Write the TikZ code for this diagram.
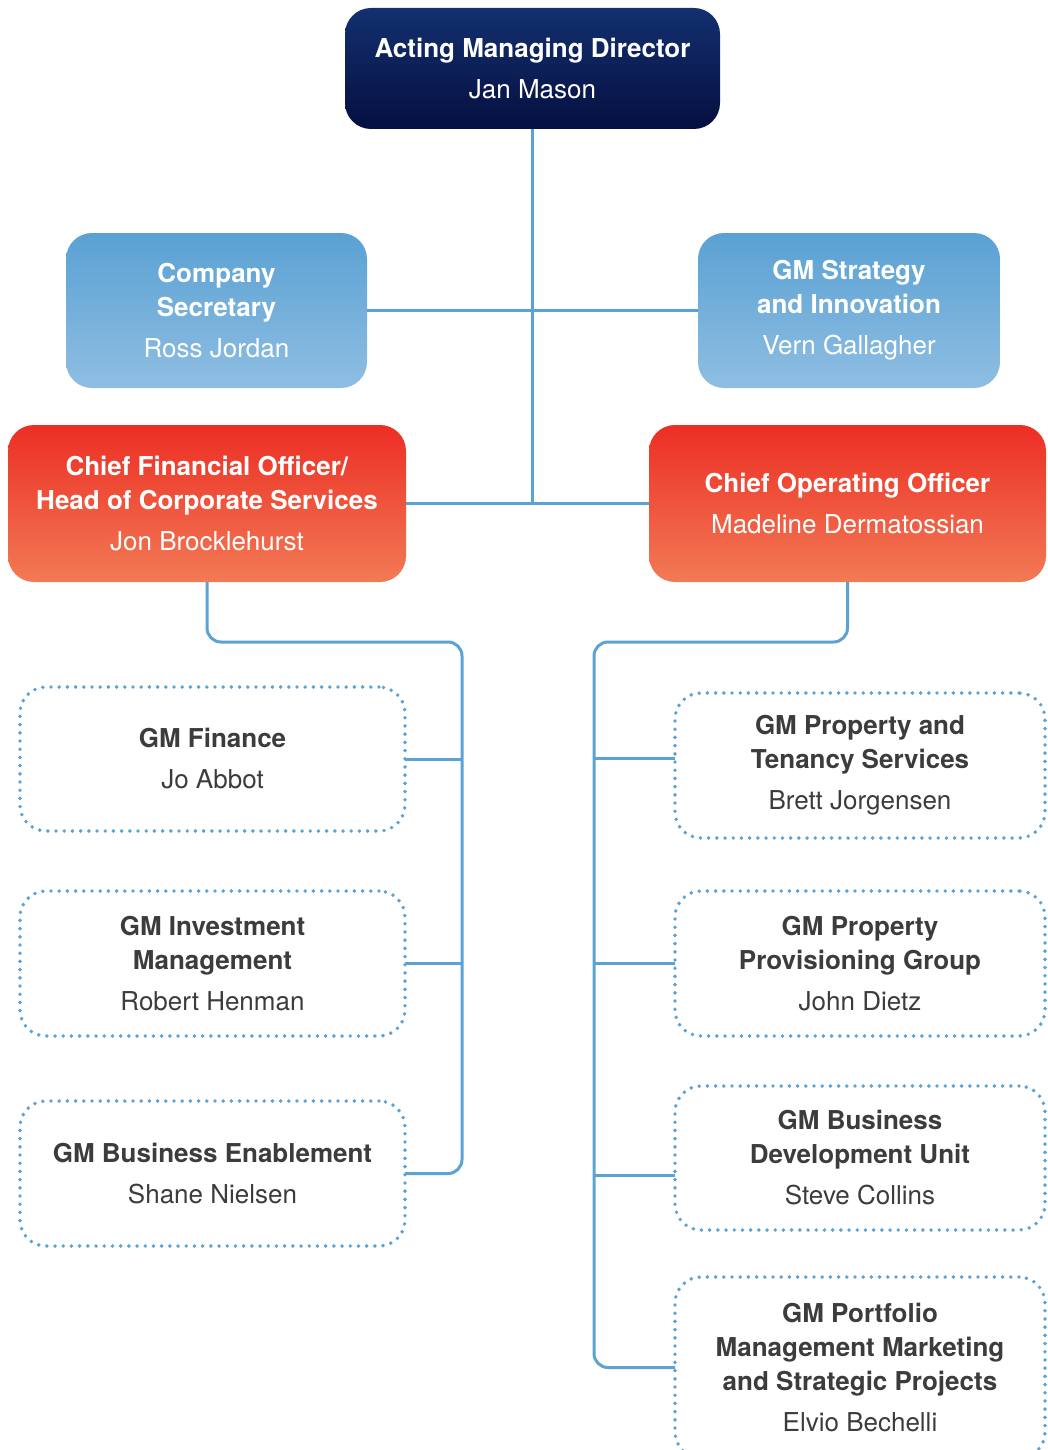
\documentclass[tikz,border=0pt]{standalone}
\usepackage{fontspec}
\setmainfont{TeX Gyre Heros}
\definecolor{navyTop}{HTML}{13306F}
\definecolor{navyBot}{HTML}{050F40}
\definecolor{skyTop}{HTML}{5AA1D3}
\definecolor{skyBot}{HTML}{8FBEE2}
\definecolor{redTop}{HTML}{EC2E24}
\definecolor{redMid}{HTML}{ED3829}
\definecolor{redBot}{HTML}{F27A55}
\definecolor{linkblue}{HTML}{5BA3D5}
\definecolor{darktext}{HTML}{3C3C3C}
\begin{document}
\begin{tikzpicture}[x=1pt,y=-1pt,
  every node/.style={inner sep=0pt, outer sep=0pt, align=center,
    font=\fontsize{26}{34}\selectfont},
  solidbox/.style={rounded corners=26pt, text=white},
  navybox/.style={solidbox, top color=navyTop, bottom color=navyBot},
  skybox/.style={solidbox, top color=skyTop, bottom color=skyBot},
  redbox/.style={solidbox, top color=redTop, middle color=redMid, bottom color=redBot},
  dotbox/.style={rounded corners=26pt, text=darktext, draw=linkblue,
    line width=3.9pt, line cap=round, dash pattern=on 0pt off 8.2pt},
  link/.style={draw=linkblue, line width=3pt},
  trunk/.style={link, rounded corners=14pt}
]
\useasboundingbox (0,0) rectangle (1047,1450);
\clip (0,0) rectangle (1047,1450);

% top level
\node[navybox, minimum width=375, minimum height=121] (md) at (532.5,68.5)
  {\textbf{Acting Managing Director}\\[7pt]Jan Mason};

% advisers
\node[skybox, minimum width=301, minimum height=155] (cs) at (216.5,310.5)
  {\textbf{Company}\\\textbf{Secretary}\\[7pt]Ross Jordan};
\node[skybox, minimum width=302, minimum height=155] (gs) at (849,310.5)
  {\textbf{GM Strategy}\\\textbf{and Innovation}\\[7pt]Vern Gallagher};

% chief officers
\node[redbox, minimum width=398, minimum height=157] (cfo) at (207,503.5)
  {\textbf{Chief Financial Officer/}\\\textbf{Head of Corporate Services}\\[7pt]Jon Brocklehurst};
\node[redbox, minimum width=397, minimum height=157] (coo) at (847.5,503.5)
  {\textbf{Chief Operating Officer}\\[7pt]Madeline Dermatossian};

% general managers under the CFO
\node[dotbox, minimum width=385, minimum height=144] (fin) at (212.5,759)
  {\textbf{GM Finance}\\[7pt]Jo Abbot};
\node[dotbox, minimum width=385, minimum height=145] (inv) at (212.5,963.5)
  {\textbf{GM Investment}\\\textbf{Management}\\[7pt]Robert Henman};
\node[dotbox, minimum width=385, minimum height=145] (ben) at (212.5,1173.5)
  {\textbf{GM Business Enablement}\\[7pt]Shane Nielsen};

% general managers under the COO
\node[dotbox, minimum width=370, minimum height=145] (ten) at (860,765.5)
  {\textbf{GM Property and}\\\textbf{Tenancy Services}\\[7pt]Brett Jorgensen};
\node[dotbox, minimum width=370, minimum height=145] (prov) at (860,963.5)
  {\textbf{GM Property}\\\textbf{Provisioning Group}\\[7pt]John Dietz};
\node[dotbox, minimum width=370, minimum height=144] (dev) at (860,1158)
  {\textbf{GM Business}\\\textbf{Development Unit}\\[7pt]Steve Collins};
\node[dotbox, minimum width=370, minimum height=181] (port) at (860,1367.5)
  {\textbf{GM Portfolio}\\\textbf{Management Marketing}\\\textbf{and Strategic Projects}\\[7pt]Elvio Bechelli};

% reporting lines
\coordinate (lt) at (462,642);
\coordinate (rt) at (594,642);

\draw[link] (md.south) -- (md.south |- cfo.east);
\draw[link] (cs.east) -- (gs.west);
\draw[link] (cfo.east) -- (coo.west);

\draw[trunk] (cfo.south) |- (lt) |- (ben.east);
\draw[link] (fin.east) -- (fin.east -| lt);
\draw[link] (inv.east) -- (inv.east -| lt);

\draw[trunk] (coo.south) |- (rt) |- (port.west);
\draw[link] (rt |- 0,758) -- (ten.west |- 0,758);
\draw[link] (prov.west -| rt) -- (prov.west);
\draw[link] (rt |- 0,1175) -- (dev.west |- 0,1175);
\end{tikzpicture}
\end{document}
